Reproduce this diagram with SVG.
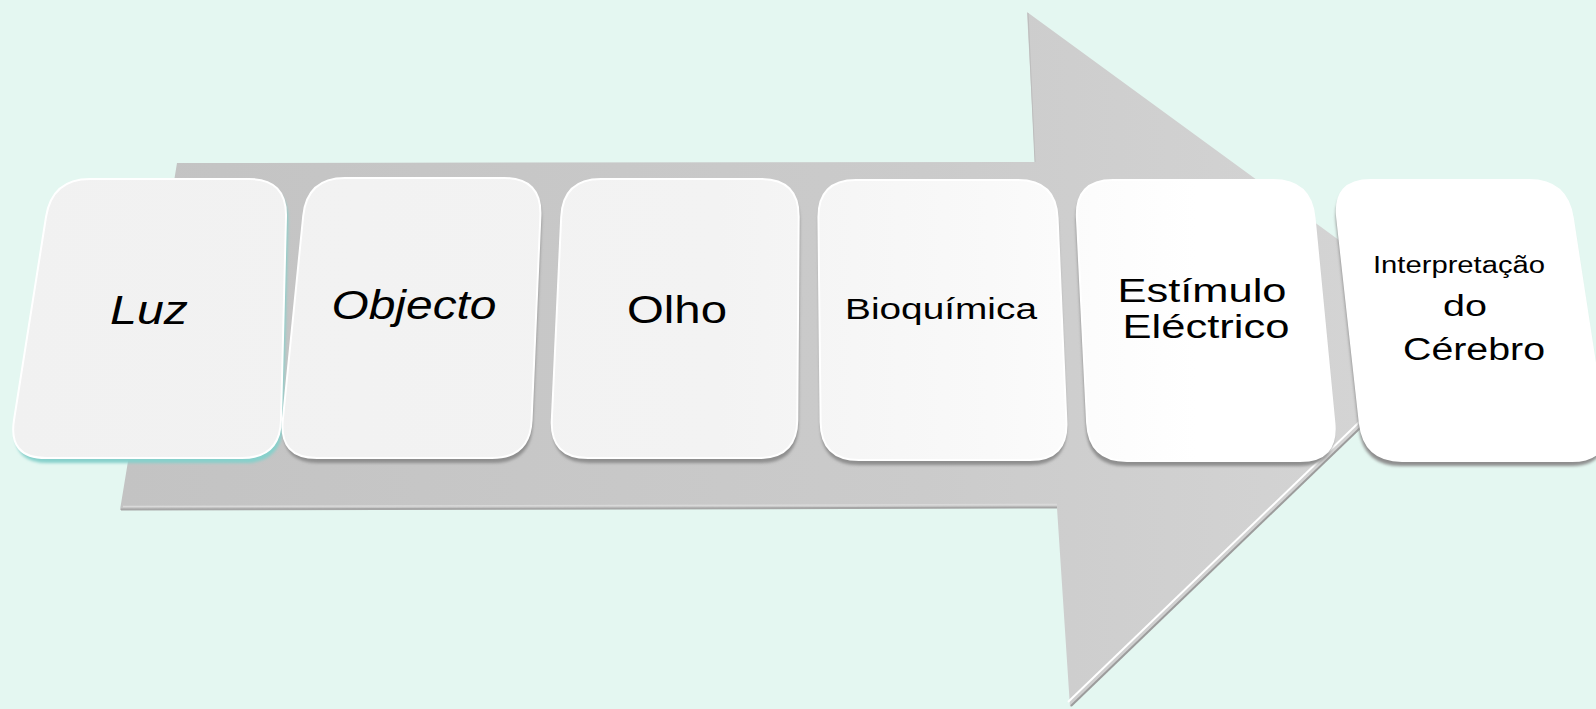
<svg xmlns="http://www.w3.org/2000/svg" xmlns:xlink="http://www.w3.org/1999/xlink" width="1596" height="709" viewBox="0 0 1596 709">
  <defs>
    <linearGradient id="arrowFill" gradientUnits="userSpaceOnUse" x1="120" y1="0" x2="1460" y2="0">
      <stop offset="0" stop-color="#c3c3c3"/>
      <stop offset="0.6" stop-color="#cbcbcb"/>
      <stop offset="1" stop-color="#d6d6d6"/>
    </linearGradient>
    <linearGradient id="faceFill" gradientUnits="userSpaceOnUse" x1="0" y1="0" x2="1596" y2="0">
      <stop offset="0" stop-color="#f1f1f1"/>
      <stop offset="0.45" stop-color="#f3f3f3"/>
      <stop offset="0.62" stop-color="#f9f9f9"/>
      <stop offset="0.75" stop-color="#ffffff"/>
      <stop offset="1" stop-color="#ffffff"/>
    </linearGradient>
    <filter id="soft" x="-5%" y="-5%" width="110%" height="115%">
      <feGaussianBlur stdDeviation="1.8"/>
    </filter>

    <!-- card outlines: quadrilaterals with rounded corners -->
    <path id="c1" d="M90,179 L249,179 Q287,179 286,217 L281,420 Q280,458 242,458 L46,458 Q8,458 14,420 L46,217 Q52,179 90,179 Z"/>
    <path id="c2" d="M345,178 L504,178 Q542,178 540.4,216 L531.6,420 Q530,458 492,458 L317,458 Q279,458 282.8,420 L303.2,216 Q307,178 345,178 Z"/>
    <path id="c3" d="M601,179 L761,179 Q799,179 798.7,217 L797.3,420 Q797,458 759,458 L588,458 Q550,458 551.8,420 L561.2,217 Q563,179 601,179 Z"/>
    <path id="c4" d="M856,180 L1018,180 Q1056,180 1057.6,218 L1066.4,422 Q1068,460 1030,460 L859,460 Q821,460 820.6,422 L818.4,218 Q818,180 856,180 Z"/>
    <path id="c5" d="M1113,180 L1273,180 Q1311,180 1314.6,218 L1334.4,423 Q1338,461 1300,461 L1127,461 Q1089,461 1087.1,423 L1076.9,218 Q1075,180 1113,180 Z"/>
    <path id="c6" d="M1371,180 L1529,180 Q1567,180 1572.8,218 L1604.2,423 Q1610,461 1572,461 L1402,461 Q1364,461 1359.8,423 L1337.2,218 Q1333,180 1371,180 Z"/>
  </defs>

  <style>
    .bg { fill: #e4f7f1; }
    .shade { fill: #8e8e8e; filter: url(#soft); }
    .shade-teal { fill: #86d0cb; filter: url(#soft); }
    .face { fill: url(#faceFill); stroke: #ffffff; stroke-width: 2; }
    .label { font-family: "Liberation Sans", Arial, sans-serif; fill: #000000; text-anchor: middle; }
    .it { font-style: italic; }
  </style>

  <rect class="bg" x="0" y="0" width="1596" height="709"/>

  <!-- large flow arrow behind the cards -->
  <g id="flow-arrow">
    <path d="M177,163 L1035,162 L1027,12 L1462,330 L1070,707 L1057,508 L120,510 Z" fill="url(#arrowFill)"/>
    <!-- bevel on the lower edges -->
    <line x1="121" y1="509.5" x2="1057" y2="507.5" stroke="#a6a6a6" stroke-width="2"/>
    <line x1="123" y1="506.5" x2="1057" y2="504.5" stroke="#d9d9d9" stroke-width="1.5"/>
    <line x1="1071" y1="706" x2="1462" y2="330" stroke="#9c9c9c" stroke-width="2"/>
    <line x1="1068" y1="702" x2="1457" y2="328" stroke="#ffffff" stroke-width="2"/>
    <line x1="1028" y1="13" x2="1035" y2="162" stroke="#bdbdbd" stroke-width="1"/>
  </g>

  <g id="node-luz">
    <use xlink:href="#c1" class="shade-teal" transform="translate(2,5)"/>
    <use xlink:href="#c1" class="face"/>
    <text class="label it" x="149" y="324" font-size="41" textLength="78" lengthAdjust="spacingAndGlyphs">Luz</text>
  </g>

  <g id="node-objecto">
    <use xlink:href="#c2" class="shade" transform="translate(1,5)"/>
    <use xlink:href="#c2" class="face"/>
    <text class="label it" x="414" y="319" font-size="40" textLength="165" lengthAdjust="spacingAndGlyphs">Objecto</text>
  </g>

  <g id="node-olho">
    <use xlink:href="#c3" class="shade" transform="translate(1,5)"/>
    <use xlink:href="#c3" class="face"/>
    <text class="label" x="677" y="323" font-size="39" textLength="100" lengthAdjust="spacingAndGlyphs">Olho</text>
  </g>

  <g id="node-bioquimica">
    <use xlink:href="#c4" class="shade" transform="translate(0,5)"/>
    <use xlink:href="#c4" class="face"/>
    <text class="label" x="941" y="319" font-size="29" textLength="192" lengthAdjust="spacingAndGlyphs">Bioquímica</text>
  </g>

  <g id="node-estimulo">
    <use xlink:href="#c5" class="shade" transform="translate(-1,5)"/>
    <use xlink:href="#c5" class="face"/>
    <text class="label" x="1202" y="302" font-size="33" textLength="169" lengthAdjust="spacingAndGlyphs">Estímulo</text>
    <text class="label" x="1206" y="338" font-size="33" textLength="167" lengthAdjust="spacingAndGlyphs">Eléctrico</text>
  </g>

  <g id="node-cerebro">
    <use xlink:href="#c6" class="shade" transform="translate(-1,5)"/>
    <use xlink:href="#c6" class="face"/>
    <text class="label" x="1459" y="273" font-size="23" textLength="172" lengthAdjust="spacingAndGlyphs">Interpretação</text>
    <text class="label" x="1465" y="316" font-size="29" textLength="44" lengthAdjust="spacingAndGlyphs">do</text>
    <text class="label" x="1474" y="360" font-size="31" textLength="142" lengthAdjust="spacingAndGlyphs">Cérebro</text>
  </g>
</svg>
